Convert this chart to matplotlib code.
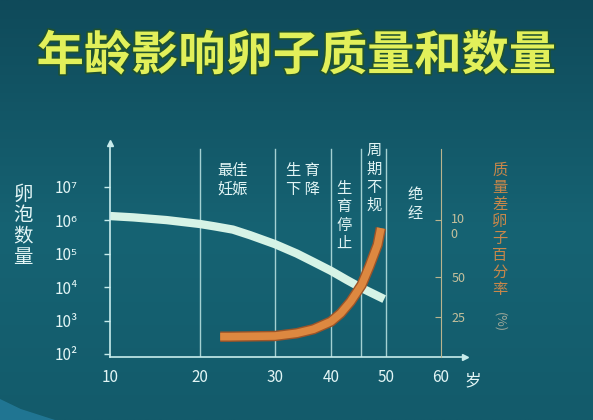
import numpy as np
import matplotlib
matplotlib.use("Agg")
import matplotlib.pyplot as plt
import matplotlib.patheffects as pe
from matplotlib.colors import to_rgb
from matplotlib.patches import Polygon
from matplotlib.ticker import FixedLocator, FixedFormatter, NullLocator

plt.rcParams['font.family'] = ['Noto Sans CJK SC', 'DejaVu Sans']

# ── Data ──────────────────────────────────────────────
TITLE = "年龄影响卵子质量和数量"
FOLLICLE_AGE = [10, 12.6, 16.3, 20, 22, 24.4, 26.7, 30, 33.9, 36.9, 40, 42.9, 45.6, 49.7]
FOLLICLE_COUNT = [1.35e6, 1.23e6, 1.02e6, 7.8e5, 6.6e5, 5.3e5, 3.6e5, 1.95e5,
                  1.02e5, 5.7e4, 3.1e4, 1.65e4, 9.4e3, 4.4e3]
POOR_EGG_AGE = [22.7, 24, 30, 33.9, 36.9, 40, 41.8, 43.6, 45.6, 47, 48.5, 49.1]
POOR_EGG_PCT = [12.6, 12.6, 13.0, 14.7, 17.2, 21.9, 27.1, 34.4, 44.8, 58.9, 78.3, 93.2]

STAGE_BOUNDS = [20, 30, 40, 45.5, 50]
STAGE_LABELS = ["最佳\n妊娠", "生 育\n下 降", "生\n育\n停\n止", "周\n期\n不\n规", "绝\n经"]
STAGE_AGE = [24.3, 35, 42.4, 47.8, 55.3]

AGE_TICKS = [10, 20, 30, 40, 50, 60]
AGE_LABELS = ["10", "20", "30", "40", "50", "60"]
COUNT_TICKS = [1e2, 1e3, 1e4, 1e5, 1e6, 1e7]
COUNT_LABELS = ["10²", "10³", "10⁴", "10⁵", "10⁶", "10⁷"]
PCT_TICKS = [25, 50]
PCT_LABELS = ["25", "50"]

# ── Layout / style ────────────────────────────────────
STAGE_Y = [0.827, 0.827, 0.659, 0.836, 0.715]   # axes fraction
AGE_KNOTS = [10, 20, 30, 40, 50, 60, 70]         # hand-drawn, uneven x axis
AGE_PX = [0, 90, 165, 221, 276, 331, 386]
PCT_KNOTS = [0, 25, 50, 100, 200]                # uneven right axis
PCT_PX = [0, 40.3, 80.3, 136.3, 248.3]

AXIS_COL = '#c8ecec'
TEXT_COL = '#e2f5f5'
MINT = '#d6f3e6'
ORANGE = '#dd8840'
TAN = '#b9b48e'


def age_fwd(a):
    return np.interp(a, AGE_KNOTS, AGE_PX)


def age_inv(p):
    return np.interp(p, AGE_PX, AGE_KNOTS)


def pct_fwd(v):
    return np.interp(v, PCT_KNOTS, PCT_PX)


def pct_inv(p):
    return np.interp(p, PCT_PX, PCT_KNOTS)


fig = plt.figure(figsize=(5.93, 4.20), dpi=100)

# ── Background ────────────────────────────────────────
bg = fig.add_axes([0, 0, 1, 1], zorder=-5)
top, mid, bot = np.array(to_rgb('#0f4a5a')), np.array(to_rgb('#166373')), np.array(to_rgb('#135b6b'))
t = np.linspace(0, 1, 200)[:, None]
grad = np.where(t < 0.55, top + (mid - top) * (t / 0.55), mid + (bot - mid) * ((t - 0.55) / 0.45))
bg.imshow(grad[:, None, :].repeat(2, axis=1), aspect='auto', extent=[0, 1, 0, 1])
bg.add_patch(Polygon([(0, 1 - 399 / 420), (0.035, 1 - 409 / 420), (55 / 593, 0), (0, 0)],
                     closed=True, color='#2a88ad', alpha=0.6, lw=0))
bg.set_xlim(0, 1)
bg.set_ylim(0, 1)
bg.axis('off')

# ── Title ─────────────────────────────────────────────
fig.text(0.5, 1 - 56 / 420, TITLE, ha='center', va='center', fontsize=34,
         fontweight='bold', color='#e2f05a',
         path_effects=[pe.withStroke(linewidth=2.5, foreground='#1f5230')])

# ── Main axes (follicle count) ────────────────────────
ax = fig.add_axes([110 / 593, 63 / 420, 355 / 593, 214 / 420])
ax.patch.set_alpha(0)
ax.set_xscale('function', functions=(age_fwd, age_inv))
ax.set_yscale('log')
ax.set_xlim(10, 64.4)
ax.set_ylim(10 ** 1.91, 10 ** 8.317)

for s in ['top', 'right']:
    ax.spines[s].set_visible(False)
for s in ['left', 'bottom']:
    ax.spines[s].set_color(AXIS_COL)
    ax.spines[s].set_linewidth(1.2)
ax.plot(0, 1, '^', color=AXIS_COL, ms=4, transform=ax.transAxes, clip_on=False)
ax.plot(1, 0, '>', color=AXIS_COL, ms=4, transform=ax.transAxes, clip_on=False)

ax.xaxis.set_major_locator(FixedLocator(AGE_TICKS))
ax.xaxis.set_major_formatter(FixedFormatter(AGE_LABELS))
ax.xaxis.set_minor_locator(NullLocator())
ax.yaxis.set_major_locator(FixedLocator(COUNT_TICKS))
ax.yaxis.set_major_formatter(FixedFormatter(COUNT_LABELS))
ax.yaxis.set_minor_locator(NullLocator())
ax.tick_params(axis='x', length=0, pad=9, labelsize=11, labelcolor=TEXT_COL)
ax.tick_params(axis='y', direction='out', length=4, width=1, color=AXIS_COL,
               pad=19, labelsize=11, labelcolor=TEXT_COL)

for b in STAGE_BOUNDS:
    ax.axvline(b, ymax=0.97, color='#b5dede', lw=1.0, alpha=0.9)
for a, y, lab in zip(STAGE_AGE, STAGE_Y, STAGE_LABELS):
    ax.text(a, y, lab, transform=ax.get_xaxis_transform(), ha='center', va='center',
            fontsize=11, color=TEXT_COL, linespacing=1.1)

ax.plot(FOLLICLE_AGE, FOLLICLE_COUNT, color=MINT, lw=6,
        solid_capstyle='butt', solid_joinstyle='round')

# ── Right axes (poor quality egg %) ───────────────────
ax2 = ax.twinx()
ax2.set_yscale('function', functions=(pct_fwd, pct_inv))
ax2.set_ylim(0, 169)
for s in ['top', 'left', 'bottom']:
    ax2.spines[s].set_visible(False)
ax2.spines['right'].set_position(('data', 60))
ax2.spines['right'].set_bounds(0, 164)
ax2.spines['right'].set_color(TAN)
ax2.yaxis.set_major_locator(FixedLocator(PCT_TICKS + [100]))
ax2.yaxis.set_major_formatter(FixedFormatter(PCT_LABELS + [""]))
ax2.yaxis.set_minor_locator(NullLocator())
ax2.tick_params(axis='y', direction='in', length=4, color=TAN, pad=8,
                labelsize=9, labelcolor='#c6c09c')
ax2.annotate("10\n0", xy=(60, 100), xytext=(10, 7), textcoords='offset pixels',
             ha='left', va='top', fontsize=9, color='#c6c09c', linespacing=1.2)

ax2.plot(POOR_EGG_AGE, POOR_EGG_PCT, color=ORANGE, lw=5.5,
         solid_capstyle='butt', solid_joinstyle='round',
         path_effects=[pe.Stroke(linewidth=7.5, foreground='#9c5428', joinstyle='round'),
                       pe.Normal()])

# ── Side labels ───────────────────────────────────────
fig.text(23 / 593, 1 - 226 / 420, "卵\n泡\n数\n量", ha='center', va='center',
         fontsize=14, color=TEXT_COL, linespacing=1.0)
fig.text(500 / 593, 1 - 230 / 420, "质\n量\n差\n卵\n子\n百\n分\n率", ha='center', va='center',
         fontsize=11, color='#c8874a', linespacing=1.0)
fig.text(500 / 593, 1 - 322 / 420, "(%)", ha='center', va='center', rotation=-90,
         fontsize=9, color='#9ea89a')
fig.text(473 / 593, 1 - 381 / 420, "岁", ha='center', va='center',
         fontsize=12, color=TEXT_COL)

fig.savefig("out.png", dpi=100)
